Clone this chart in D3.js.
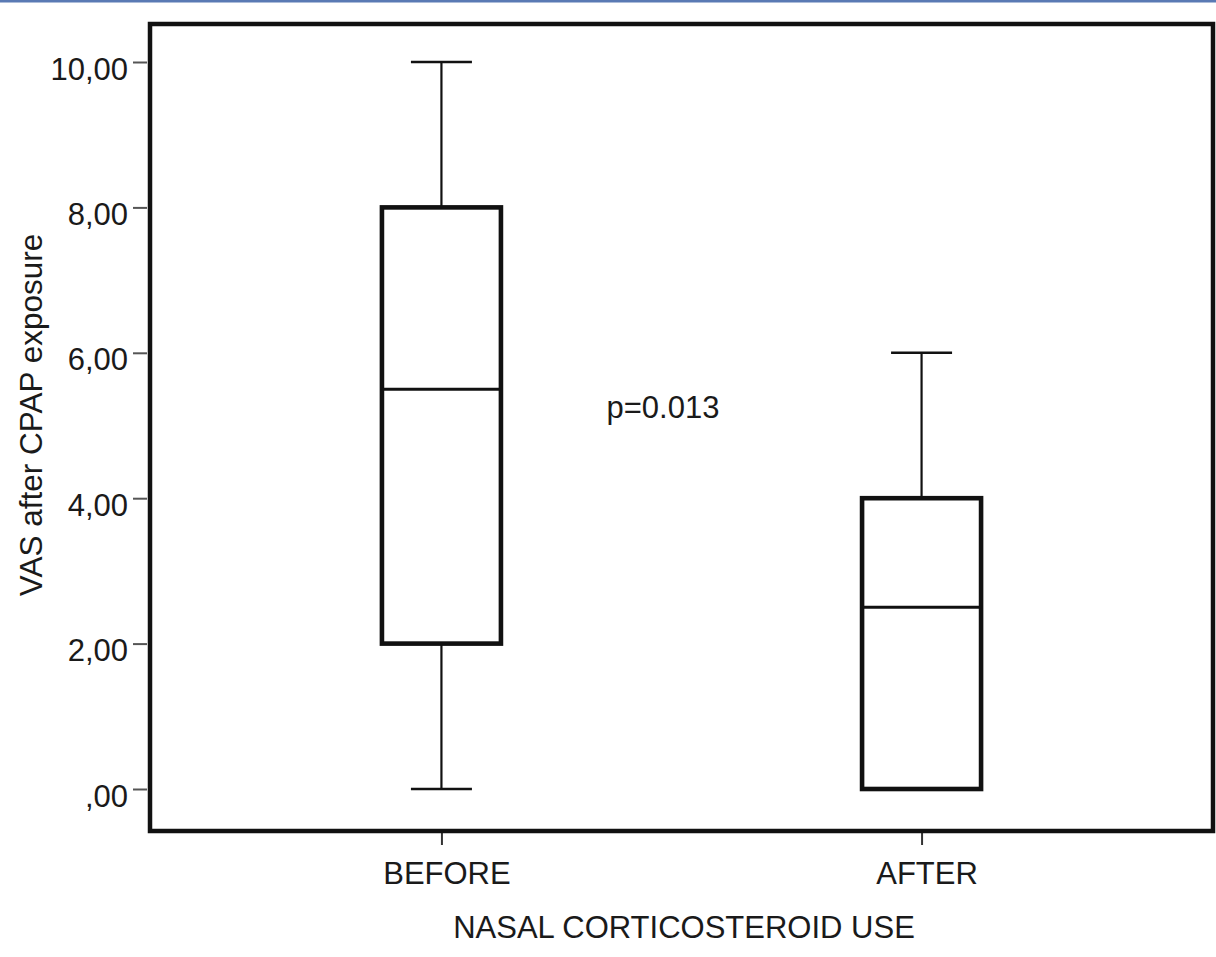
<!DOCTYPE html>
<html>
<head>
<meta charset="utf-8">
<script src="https://cdn.jsdelivr.net/npm/d3@7"></script>
<style>
  body { margin: 0; background: #fff; }
  svg { display: block; font-family: "Liberation Sans", Arial, sans-serif; }
</style>
</head>
<body>
<svg id="chart" width="1216" height="957"></svg>
<script>
// groups and box stats (min, q1, median, q3, max)
var groups = ["BEFORE", "AFTER"];
var mins = [0, 0];
var q1s = [2, 0];
var medians = [5.5, 2.5];
var q3s = [8, 4];
var maxs = [10, 6];

var yTickValues = [0, 2, 4, 6, 8, 10];
var yTickLabels = [",00", "2,00", "4,00", "6,00", "8,00", "10,00"];

var pLabel = "p=0.013";
var pValueY = 5.1;

var svg = d3.select("#chart");

// top blue rule
svg.append("rect").attr("x", 0).attr("y", 0).attr("width", 1216).attr("height", 2.5)
  .attr("fill", "#5a7ab4");

var frame = { left: 150, top: 24, right: 1213, bottom: 831 };

var x = d3.scalePoint()
  .domain(groups)
  .range([frame.left, frame.right])
  .padding(0.607);

var y = d3.scaleLinear()
  .domain([0, 10])
  .range([789, 62]);

var boxW = 119;
var capW = 61;

// y axis
var yAxis = d3.axisLeft(y)
  .tickValues(yTickValues)
  .tickFormat(function(d, i) { return yTickLabels[i]; })
  .tickSize(14)
  .tickPadding(5);

var gy = svg.append("g")
  .attr("transform", "translate(" + (frame.left - 3) + ",0)")
  .call(yAxis);
gy.select(".domain").remove();
gy.selectAll(".tick line").attr("stroke", "#555").attr("stroke-width", 2);
gy.selectAll(".tick text")
  .attr("font-size", 31)
  .attr("fill", "#1a1a1a")
  .attr("font-family", "Liberation Sans, Arial, sans-serif")
  .attr("dy", 17);

// x axis
var xAxis = d3.axisBottom(x).tickSize(12);
var gx = svg.append("g")
  .attr("transform", "translate(0," + (frame.bottom + 2) + ")")
  .call(xAxis);
gx.select(".domain").remove();
gx.selectAll(".tick line").attr("stroke", "#333").attr("stroke-width", 2);
gx.selectAll(".tick text")
  .attr("font-size", 31)
  .attr("fill", "#1a1a1a")
  .attr("font-family", "Liberation Sans, Arial, sans-serif")
  .attr("x", 5)
  .attr("y", 51)
  .attr("dy", 0);

// frame
svg.append("rect")
  .attr("x", frame.left).attr("y", frame.top)
  .attr("width", frame.right - frame.left)
  .attr("height", frame.bottom - frame.top)
  .attr("fill", "none")
  .attr("stroke", "#111")
  .attr("stroke-width", 4.5);

// boxes
var boxes = svg.append("g").selectAll("g")
  .data(groups)
  .enter().append("g");

boxes.each(function(g, i) {
  var el = d3.select(this);
  var cx = x(g);
  // upper whisker
  if (maxs[i] > q3s[i]) {
    el.append("line").attr("x1", cx).attr("x2", cx)
      .attr("y1", y(q3s[i])).attr("y2", y(maxs[i]))
      .attr("stroke", "#111").attr("stroke-width", 2.2);
    el.append("line").attr("x1", cx - capW / 2).attr("x2", cx + capW / 2)
      .attr("y1", y(maxs[i])).attr("y2", y(maxs[i]))
      .attr("stroke", "#111").attr("stroke-width", 2.5);
  }
  // lower whisker
  if (mins[i] < q1s[i]) {
    el.append("line").attr("x1", cx).attr("x2", cx)
      .attr("y1", y(q1s[i])).attr("y2", y(mins[i]))
      .attr("stroke", "#111").attr("stroke-width", 2.2);
    el.append("line").attr("x1", cx - capW / 2).attr("x2", cx + capW / 2)
      .attr("y1", y(mins[i])).attr("y2", y(mins[i]))
      .attr("stroke", "#111").attr("stroke-width", 2.5);
  }
  el.append("rect")
    .attr("x", cx - boxW / 2).attr("y", y(q3s[i]))
    .attr("width", boxW).attr("height", y(q1s[i]) - y(q3s[i]))
    .attr("fill", "#fff")
    .attr("stroke", "#111").attr("stroke-width", 4.6);
  el.append("line")
    .attr("x1", cx - boxW / 2).attr("x2", cx + boxW / 2)
    .attr("y1", y(medians[i])).attr("y2", y(medians[i]))
    .attr("stroke", "#111").attr("stroke-width", 3);
});

// p value annotation
svg.append("text")
  .attr("x", (x(groups[0]) + x(groups[1])) / 2 - 75)
  .attr("y", y(pValueY))
  .attr("font-size", 31)
  .attr("fill", "#1a1a1a")
  .text(pLabel);

// axis titles
svg.append("text")
  .attr("transform", "translate(42," + 415 + ") rotate(-90)")
  .attr("text-anchor", "middle")
  .attr("font-size", 31.5)
  .attr("fill", "#1a1a1a")
  .text("VAS after CPAP exposure");

svg.append("text")
  .attr("x", 684)
  .attr("y", 938)
  .attr("text-anchor", "middle")
  .attr("font-size", 31)
  .attr("fill", "#1a1a1a")
  .text("NASAL CORTICOSTEROID USE");
</script>
</body>
</html>
